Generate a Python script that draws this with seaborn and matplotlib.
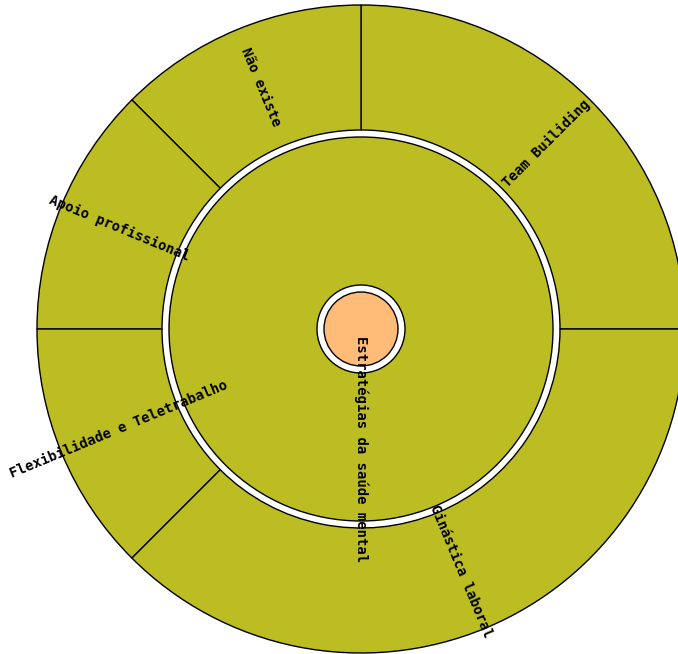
import numpy as np
import matplotlib
matplotlib.use("Agg")
import matplotlib.pyplot as plt
from matplotlib.patches import Circle
import seaborn as sns

# dados
middle_labels = ["Estratégias da saúde mental"]
middle_values = [8]
outer_labels = ["Team Builiding", "Não existe", "Apoio profissional",
                "Flexibilidade e Teletrabalho", "Ginástica laboral"]
outer_values = [2, 1, 1, 1, 3]

sns.set_theme(style="white")
olive = sns.color_palette("tab10")[8]
orange = sns.color_palette("tab20")[3]

fig = plt.figure(figsize=(6.78, 6.54), dpi=100)
ax = fig.add_axes([0, 0, 1, 1])
R = 324.0
cx, cy = 361.0, 329.0

edge = dict(edgecolor="black", linewidth=1.0)

# anel exterior
w_out, _ = ax.pie(outer_values, radius=1.0, startangle=0, counterclock=True,
                  colors=[olive] * len(outer_values),
                  wedgeprops=dict(width=1.0 - 199 / R, **edge))
# anel do meio
w_mid, _ = ax.pie(middle_values, radius=192 / R, startangle=90, counterclock=False,
                  colors=[olive], wedgeprops=dict(width=(192 - 44) / R, **edge))
# centro
ax.add_patch(Circle((0, 0), 37 / R, facecolor=orange, **edge))


def put_label(wedge, text, r):
    a = (wedge.theta1 + wedge.theta2) / 2.0 % 360
    rot = a if (a <= 90 or a >= 270) else a - 180
    x, y = r * np.cos(np.radians(a)), r * np.sin(np.radians(a))
    ax.text(x, y, text, rotation=rot, rotation_mode="anchor",
            ha="center", va="center", fontsize=10, fontweight="bold",
            family="DejaVu Sans Mono", color="black")


for w, lab in zip(w_out, outer_labels):
    put_label(w, lab, 262 / R)
for w, lab in zip(w_mid, middle_labels):
    put_label(w, lab, 120 / R)

ax.set_aspect("auto")
ax.set_xlim(-cx / R, (678 - cx) / R)
ax.set_ylim(-(654 - cy) / R, cy / R)
ax.axis("off")

fig.savefig("out.png", dpi=100)
